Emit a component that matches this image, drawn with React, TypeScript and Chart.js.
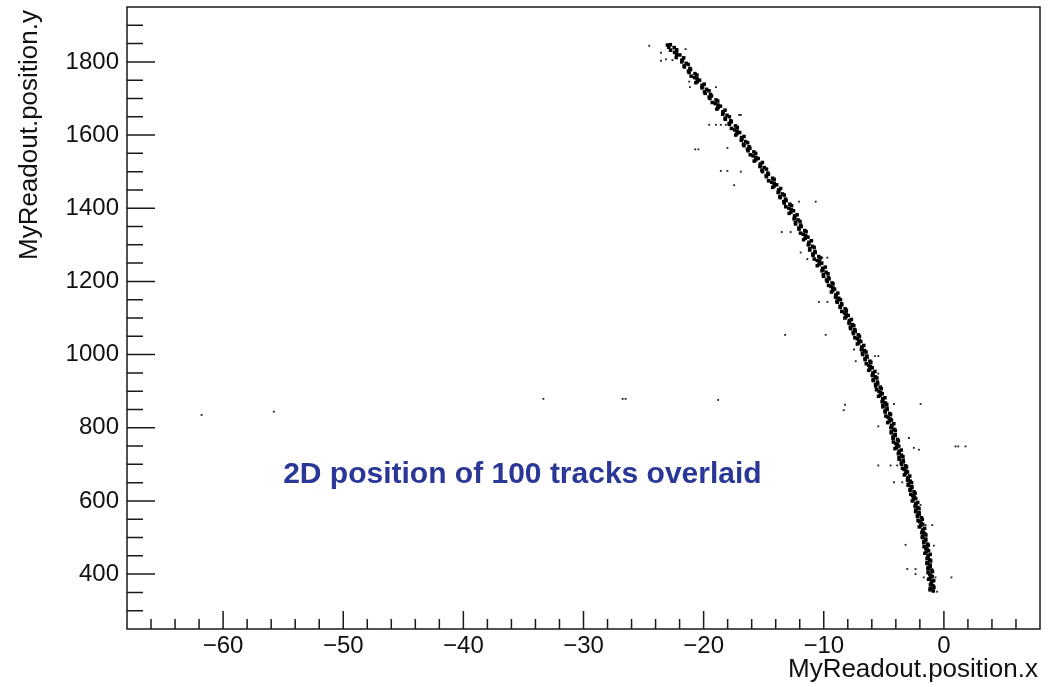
import React, { useEffect, useRef } from 'react';
import { Chart, registerables } from 'chart.js';

Chart.register(...registerables);

const FONT = '"Liberation Sans", Arial, Helvetica, sans-serif';

const xRange = [-68, 8];
const yRange = [250, 1950];
const xStep = 2;
const yStep = 50;
const xMajorEvery = 10;
const yMajorEvery = 200;

const xTitle = 'MyReadout.position.x';
const yTitle = 'MyReadout.position.y';
const noteText = '2D position of 100 tracks overlaid';
const notePos = [-55, 648];

// dense band of hits along the curved track (first set of tracks)
const trackHitsA: [number, number][] = [
  [-22.77, 1847], [-22.9, 1840], [-22.24, 1833], [-22.42, 1826], [-21.98, 1819], [-22.28, 1812], [-21.77, 1805],
  [-21.82, 1800], [-21.28, 1793], [-21.6, 1786], [-21.09, 1779], [-21.21, 1771], [-20.56, 1764], [-20.76, 1757],
  [-20.34, 1750], [-20.65, 1743], [-20.13, 1736], [-20.14, 1729], [-19.56, 1721], [-19.87, 1714], [-19.35, 1707],
  [-19.48, 1700], [-18.83, 1693], [-19.03, 1686], [-18.6, 1679], [-18.9, 1671], [-18.39, 1664], [-18.41, 1657],
  [-17.86, 1650], [-18.19, 1643], [-17.7, 1636], [-17.85, 1629], [-17.2, 1621], [-17.41, 1614], [-17.0, 1607],
  [-17.33, 1600], [-16.84, 1593], [-16.87, 1586], [-16.34, 1579], [-16.64, 1571], [-16.15, 1564], [-16.3, 1557],
  [-15.67, 1550], [-15.88, 1543], [-15.46, 1536], [-15.79, 1529], [-15.28, 1521], [-15.31, 1514], [-14.77, 1507],
  [-15.1, 1500], [-14.61, 1493], [-14.76, 1486], [-14.13, 1479], [-14.33, 1471], [-13.92, 1464], [-14.25, 1457],
  [-13.76, 1450], [-13.8, 1443], [-13.29, 1436], [-13.63, 1429], [-13.13, 1421], [-13.29, 1414], [-12.68, 1407],
  [-12.9, 1400], [-12.52, 1393], [-12.88, 1386], [-12.43, 1379], [-12.47, 1371], [-11.98, 1364], [-12.34, 1357],
  [-11.88, 1350], [-12.06, 1343], [-11.47, 1336], [-11.71, 1329], [-11.32, 1321], [-11.68, 1314], [-11.23, 1307],
  [-11.29, 1300], [-10.8, 1293], [-11.17, 1286], [-10.71, 1279], [-10.89, 1271], [-10.29, 1264], [-10.54, 1257],
  [-10.17, 1250], [-10.54, 1243], [-10.09, 1236], [-10.15, 1229], [-9.65, 1221], [-10.01, 1214], [-9.56, 1207],
  [-9.71, 1200], [-9.23, 1193], [-9.4, 1186], [-9.1, 1179], [-9.36, 1171], [-8.98, 1164], [-9.02, 1157],
  [-8.61, 1150], [-8.88, 1143], [-8.5, 1136], [-8.62, 1129], [-8.12, 1121], [-8.28, 1114], [-7.97, 1107],
  [-8.24, 1100], [-7.87, 1093], [-7.9, 1086], [-7.5, 1079], [-7.76, 1071], [-7.38, 1064], [-7.52, 1057],
  [-7.03, 1050], [-7.21, 1043], [-6.92, 1036], [-7.2, 1029], [-6.83, 1021], [-6.87, 1014], [-6.48, 1007],
  [-6.76, 1000], [-6.4, 993], [-6.55, 986], [-6.08, 979], [-6.26, 971], [-5.97, 964], [-6.26, 957],
  [-5.9, 950], [-5.96, 943], [-5.58, 936], [-5.88, 929], [-5.51, 921], [-5.67, 914], [-5.21, 907],
  [-5.41, 900], [-5.13, 893], [-5.44, 886], [-5.09, 879], [-5.14, 871], [-4.76, 864], [-5.07, 857],
  [-4.72, 850], [-4.89, 843], [-4.44, 836], [-4.65, 829], [-4.37, 821], [-4.68, 814], [-4.34, 807],
  [-4.41, 800], [-4.05, 793], [-4.38, 786], [-4.05, 779], [-4.23, 771], [-3.79, 764], [-4.02, 757],
  [-3.76, 750], [-4.07, 743], [-3.72, 736], [-3.79, 729], [-3.41, 721], [-3.72, 714], [-3.37, 707],
  [-3.52, 700], [-3.11, 693], [-3.29, 686], [-3.03, 679], [-3.29, 671], [-2.98, 664], [-3.03, 657],
  [-2.69, 650], [-2.97, 643], [-2.67, 636], [-2.82, 629], [-2.4, 621], [-2.6, 614], [-2.35, 607],
  [-2.63, 600], [-2.33, 593], [-2.4, 586], [-2.07, 579], [-2.35, 571], [-2.05, 564], [-2.2, 557],
  [-1.8, 550], [-2.01, 543], [-1.76, 536], [-2.05, 529], [-1.75, 521], [-1.83, 514], [-1.5, 507],
  [-1.79, 500], [-1.51, 493], [-1.68, 486], [-1.3, 479], [-1.51, 471], [-1.28, 464], [-1.58, 457],
  [-1.3, 450], [-1.4, 443], [-1.1, 436], [-1.41, 429], [-1.14, 421], [-1.32, 414], [-0.95, 407],
  [-1.18, 400], [-0.97, 393], [-1.28, 386], [-1.02, 379], [-1.12, 371], [-0.83, 364], [-1.15, 357],
];

// dense band of hits along the curved track (second set of tracks)
const trackHitsB: [number, number][] = [
  [-23.01, 1846], [-22.45, 1839], [-22.75, 1832], [-22.26, 1825], [-22.24, 1818], [-21.66, 1811], [-21.8, 1804],
  [-21.45, 1796], [-21.62, 1789], [-21.14, 1782], [-21.26, 1775], [-20.72, 1768], [-21.04, 1761], [-20.55, 1754],
  [-20.52, 1746], [-19.95, 1739], [-20.09, 1732], [-19.76, 1725], [-19.93, 1718], [-19.43, 1711], [-19.54, 1704],
  [-18.97, 1696], [-19.28, 1689], [-18.8, 1682], [-18.79, 1675], [-18.22, 1668], [-18.38, 1661], [-18.05, 1654],
  [-18.21, 1646], [-17.74, 1639], [-17.87, 1632], [-17.35, 1625], [-17.68, 1618], [-17.21, 1611], [-17.22, 1604],
  [-16.64, 1596], [-16.81, 1589], [-16.5, 1582], [-16.69, 1575], [-16.22, 1568], [-16.35, 1561], [-15.82, 1554],
  [-16.12, 1546], [-15.65, 1539], [-15.66, 1532], [-15.11, 1525], [-15.27, 1518], [-14.96, 1511], [-15.15, 1504],
  [-14.66, 1496], [-14.79, 1489], [-14.26, 1482], [-14.59, 1475], [-14.12, 1468], [-14.13, 1461], [-13.59, 1454],
  [-13.74, 1446], [-13.44, 1439], [-13.65, 1432], [-13.19, 1425], [-13.33, 1418], [-12.82, 1411], [-13.16, 1404],
  [-12.69, 1396], [-12.74, 1389], [-12.22, 1382], [-12.42, 1375], [-12.14, 1368], [-12.36, 1361], [-11.93, 1354],
  [-12.07, 1346], [-11.58, 1339], [-11.94, 1332], [-11.51, 1325], [-11.55, 1318], [-11.03, 1311], [-11.24, 1304],
  [-10.95, 1296], [-11.17, 1289], [-10.74, 1282], [-10.91, 1275], [-10.42, 1268], [-10.79, 1261], [-10.35, 1254],
  [-10.39, 1246], [-9.87, 1239], [-10.08, 1232], [-9.81, 1225], [-10.04, 1218], [-9.61, 1211], [-9.77, 1204],
  [-9.31, 1196], [-9.6, 1189], [-9.23, 1182], [-9.26, 1175], [-8.83, 1168], [-8.99, 1161], [-8.75, 1154],
  [-8.9, 1146], [-8.52, 1139], [-8.64, 1132], [-8.22, 1125], [-8.5, 1118], [-8.13, 1111], [-8.14, 1104],
  [-7.7, 1096], [-7.86, 1089], [-7.62, 1082], [-7.79, 1075], [-7.42, 1068], [-7.55, 1061], [-7.13, 1054],
  [-7.41, 1046], [-7.05, 1039], [-7.09, 1032], [-6.67, 1025], [-6.83, 1018], [-6.61, 1011], [-6.78, 1004],
  [-6.42, 996], [-6.56, 989], [-6.16, 982], [-6.46, 975], [-6.11, 968], [-6.15, 961], [-5.74, 954],
  [-5.9, 946], [-5.69, 939], [-5.88, 932], [-5.54, 925], [-5.69, 918], [-5.3, 911], [-5.61, 904],
  [-5.26, 896], [-5.31, 889], [-4.91, 882], [-5.1, 875], [-4.89, 868], [-5.08, 861], [-4.74, 854],
  [-4.89, 846], [-4.51, 839], [-4.83, 832], [-4.5, 825], [-4.56, 818], [-4.17, 811], [-4.36, 804],
  [-4.16, 796], [-4.37, 789], [-4.06, 782], [-4.23, 775], [-3.86, 768], [-4.2, 761], [-3.88, 754],
  [-3.94, 746], [-3.55, 739], [-3.73, 732], [-3.53, 725], [-3.73, 718], [-3.39, 711], [-3.55, 704],
  [-3.19, 696], [-3.45, 689], [-3.15, 682], [-3.19, 675], [-2.84, 668], [-2.98, 661], [-2.8, 654],
  [-2.96, 646], [-2.68, 639], [-2.81, 632], [-2.49, 625], [-2.76, 618], [-2.48, 611], [-2.53, 604],
  [-2.18, 596], [-2.34, 589], [-2.17, 582], [-2.35, 575], [-2.07, 568], [-2.2, 561], [-1.88, 554],
  [-2.15, 546], [-1.88, 539], [-1.93, 532], [-1.6, 525], [-1.77, 518], [-1.6, 511], [-1.79, 504],
  [-1.52, 496], [-1.67, 489], [-1.37, 482], [-1.65, 475], [-1.39, 468], [-1.46, 461], [-1.14, 454],
  [-1.32, 446], [-1.18, 439], [-1.39, 432], [-1.15, 425], [-1.31, 418], [-1.02, 411], [-1.32, 404],
  [-1.07, 396], [-1.15, 389], [-0.85, 382], [-1.05, 375], [-0.91, 368], [-1.13, 361], [-0.88, 354],
];

// isolated hits away from the band
const strayHits: [number, number][] = [
  [-24.53, 1844], [-23.55, 1825], [-23.55, 1803], [-23.14, 1807], [-22.6, 1805], [-21.5, 1835],
  [-21.2, 1746], [-21.14, 1731], [-18.98, 1731], [-19.54, 1628], [-18.98, 1628], [-18.57, 1628],
  [-18.15, 1628], [-17.04, 1655], [-16.9, 1655], [-20.7, 1561], [-20.43, 1561], [-18.02, 1565],
  [-18.57, 1502], [-18.02, 1502], [-16.9, 1500], [-17.46, 1463], [-12.06, 1418], [-10.67, 1418],
  [-13.49, 1335], [-12.75, 1335], [-11.92, 1279], [-11.37, 1261], [-10.12, 1265], [-9.7, 1265],
  [-10.4, 1144], [-9.7, 1144], [-13.22, 1054], [-9.84, 1054], [-7.48, 1014], [-5.74, 996],
  [-5.46, 996], [-7.34, 982], [-5.46, 948], [-4.16, 865], [-1.94, 865], [-5.46, 804],
  [-2.91, 772], [-2.5, 745], [-2.08, 740], [0.97, 749], [1.19, 749], [1.8, 749],
  [-5.46, 697], [-4.44, 697], [-3.89, 697], [-4.16, 651], [-3.47, 651], [-1.94, 589],
  [-1.52, 534], [-0.97, 534], [-3.19, 480], [-1.39, 478], [-0.83, 478], [-3.05, 414],
  [-2.36, 414], [-2.36, 400], [-1.67, 391], [-0.7, 391], [0.63, 391], [-0.56, 352],
  [-61.79, 835], [-55.78, 844], [-33.34, 879], [-26.74, 879], [-26.5, 879], [-18.79, 876],
  [-8.23, 863], [-8.34, 848],
];

const minus = (v: number) => (v < 0 ? '\u2212' + Math.abs(v) : String(v));

const framePlugin = {
  id: 'rootFrame',
  afterDatasetsDraw(chart: any) {
    const { ctx, chartArea } = chart;
    const xs = chart.scales.x;
    const ys = chart.scales.y;
    ctx.save();
    ctx.strokeStyle = '#1a1a1a';
    ctx.lineWidth = 1.5;
    ctx.strokeRect(chartArea.left, chartArea.top, chartArea.right - chartArea.left, chartArea.bottom - chartArea.top);
    ctx.beginPath();
    xs.ticks.forEach((t: any) => {
      if (t.value <= xRange[0] || t.value >= xRange[1]) return;
      const px = xs.getPixelForValue(t.value);
      const len = t.value % xMajorEvery === 0 ? 18 : 10;
      ctx.moveTo(px, chartArea.bottom);
      ctx.lineTo(px, chartArea.bottom - len);
    });
    ys.ticks.forEach((t: any) => {
      if (t.value <= yRange[0] || t.value >= yRange[1]) return;
      const py = ys.getPixelForValue(t.value);
      const len = t.value % yMajorEvery === 0 ? 28 : 16;
      ctx.moveTo(chartArea.left, py);
      ctx.lineTo(chartArea.left + len, py);
    });
    ctx.stroke();

    // axis titles
    ctx.fillStyle = '#111';
    ctx.font = `26px ${FONT}`;
    ctx.textAlign = 'right';
    ctx.textBaseline = 'alphabetic';
    ctx.fillText(xTitle, chartArea.right - 2, 677);
    ctx.save();
    ctx.translate(37, 10);
    ctx.rotate(-Math.PI / 2);
    ctx.textAlign = 'right';
    ctx.fillText(yTitle, 0, 0);
    ctx.restore();

    // annotation
    ctx.fillStyle = '#2a3796';
    ctx.font = `bold 30px ${FONT}`;
    ctx.textAlign = 'left';
    ctx.fillText(noteText, xs.getPixelForValue(notePos[0]), ys.getPixelForValue(notePos[1]));
    ctx.restore();
  },
};

export default function App() {
  const ref = useRef<HTMLCanvasElement | null>(null);

  useEffect(() => {
    if (!ref.current) return;
    const trackStyle = {
      pointStyle: 'rect',
      pointRadius: 2.5,
      backgroundColor: '#000',
      borderWidth: 0,
    };
    const chart = new Chart(ref.current, {
      type: 'scatter',
      data: {
        datasets: [
          { data: trackHitsA.map(([x, y]) => ({ x, y })), ...trackStyle },
          { data: trackHitsB.map(([x, y]) => ({ x, y })), ...trackStyle },
          {
            data: strayHits.map(([x, y]) => ({ x, y })),
            pointStyle: 'rect',
            pointRadius: 1.3,
            backgroundColor: '#222',
            borderWidth: 0,
          },
        ],
      },
      options: {
        responsive: false,
        animation: false,
        events: [],
        layout: { padding: { top: 7, right: 21, left: 0, bottom: 0 } },
        plugins: { legend: { display: false }, tooltip: { enabled: false }, title: { display: false } },
        scales: {
          x: {
            type: 'linear',
            min: xRange[0],
            max: xRange[1],
            afterFit: (s: any) => {
              s.height = 58;
              s.paddingLeft = 0;
              s.paddingRight = 0;
            },
            border: { display: false },
            grid: { display: false, drawTicks: false },
            ticks: {
              stepSize: xStep,
              autoSkip: false,
              maxRotation: 0,
              padding: 3,
              color: '#111',
              font: { family: FONT, size: 24 },
              callback: (v: any) => (Number(v) % xMajorEvery === 0 ? minus(Number(v)) : ''),
            },
          },
          y: {
            type: 'linear',
            min: yRange[0],
            max: yRange[1],
            afterFit: (s: any) => {
              s.width = 127;
              s.paddingTop = 0;
              s.paddingBottom = 0;
            },
            border: { display: false },
            grid: { display: false, drawTicks: false },
            ticks: {
              stepSize: yStep,
              autoSkip: false,
              padding: 8,
              color: '#111',
              font: { family: FONT, size: 24 },
              callback: (v: any) => (Number(v) % yMajorEvery === 0 ? String(v) : ''),
            },
          },
        },
      },
      plugins: [framePlugin],
    });
    return () => chart.destroy();
  }, []);

  return (
    <div style={{ position: 'absolute', left: 0, top: 0, width: 1061, height: 687, background: '#fff' }}>
      <canvas ref={ref} width={1061} height={687} style={{ display: 'block' }} />
    </div>
  );
}
